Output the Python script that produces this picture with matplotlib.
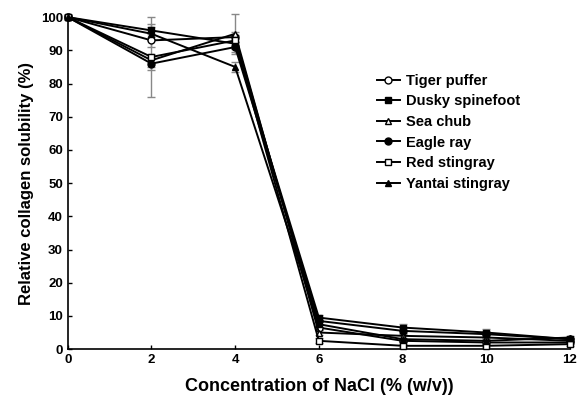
import matplotlib.pyplot as plt
import numpy as np

plt.rcParams['font.family'] = ['Liberation Sans', 'DejaVu Sans']
plt.rcParams['font.weight'] = 'bold'

# =========================
# DATA
# =========================
nacl = [0, 2, 4, 6, 8, 10, 12]

species = ["Tiger puffer", "Dusky spinefoot", "Sea chub",
           "Eagle ray", "Red stingray", "Yantai stingray"]

tiger_puffer = [100, 93, 94, 6.5, 2.5, 2.0, 2.0]
dusky_spinefoot = [100, 96, 92, 9.5, 6.5, 5.0, 3.0]
sea_chub = [100, 87, 95, 5.0, 4.0, 3.5, 2.5]
eagle_ray = [100, 86, 91, 8.5, 5.5, 4.5, 3.0]
red_stingray = [100, 88, 93, 2.5, 1.0, 1.0, 1.5]
yantai_stingray = [100, 95, 85, 7.5, 3.0, 2.5, 3.5]

tiger_err = [0.5, 2, 1.5, 0.8, 0.5, 0.5, 0.5]
dusky_err = [0.5, 2, 1.5, 0.8, 1.0, 1.0, 0.5]
sea_err = [0.5, 2, 6, 0.8, 0.8, 0.8, 0.5]
eagle_err = [0.5, 2, 1.5, 0.8, 1.0, 1.0, 0.5]
red_err = [0.5, 12, 1.5, 0.8, 0.5, 0.5, 0.5]
yantai_err = [0.5, 2, 1.5, 0.8, 0.5, 0.5, 0.5]

series = [tiger_puffer, dusky_spinefoot, sea_chub, eagle_ray, red_stingray, yantai_stingray]
errors = [tiger_err, dusky_err, sea_err, eagle_err, red_err, yantai_err]
markers = ["o", "s", "^", "o", "s", "^"]
faces = ["white", "black", "white", "black", "white", "black"]

# =========================
# PLOT
# =========================
fig = plt.figure(figsize=(5.84, 3.99), dpi=100)
ax = fig.add_axes([0.116, 0.125, 0.86, 0.832])

for name, vals, err, m, fc in zip(species, series, errors, markers, faces):
    ax.errorbar(nacl, vals, yerr=err, fmt="none", ecolor="#888888",
                elinewidth=1, capsize=3, clip_on=False, zorder=2)
    ax.plot(nacl, vals, color="black", lw=1.4, marker=m, markersize=5,
            markerfacecolor=fc, markeredgecolor="black", markeredgewidth=1,
            label=name, clip_on=False, zorder=3)

ax.set_xlim(0, 12)
ax.set_ylim(0, 100)
ax.set_xticks(range(0, 13, 2))
ax.set_yticks(range(0, 101, 10))
ax.tick_params(direction="in", length=3, labelsize=9.5, width=1)
for lab in ax.get_xticklabels() + ax.get_yticklabels():
    lab.set_fontweight("bold")

ax.spines["top"].set_visible(False)
ax.spines["right"].set_visible(False)
ax.spines["left"].set_linewidth(1.2)
ax.spines["bottom"].set_linewidth(1.2)

ax.set_xlabel("Concentration of NaCl (% (w/v))", fontsize=13, fontweight="bold", labelpad=9)
ax.set_ylabel("Relative collagen solubility (%)", fontsize=12, fontweight="bold", labelpad=5)

leg = ax.legend(loc="upper left", bbox_to_anchor=(0.595, 0.86), frameon=False,
                fontsize=10.5, handlelength=1.6, handletextpad=0.4, labelspacing=0.45,
                borderpad=0.2)
for t in leg.get_texts():
    t.set_fontweight("bold")

plt.savefig("out.png", dpi=100)
